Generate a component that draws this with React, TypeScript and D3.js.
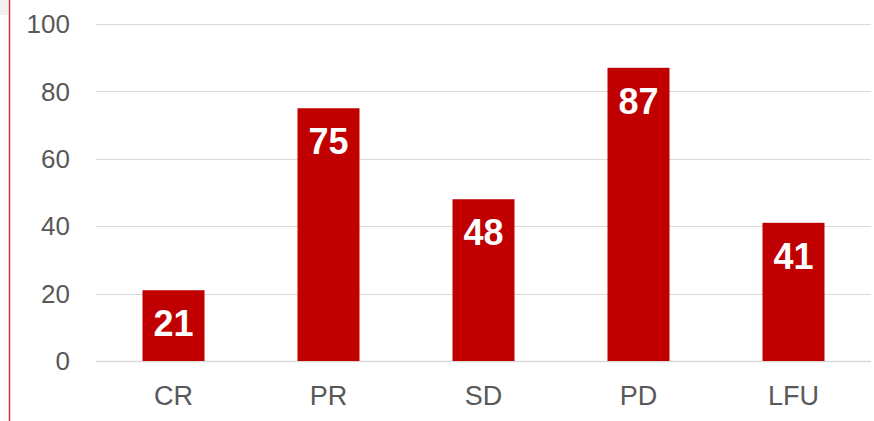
import React, { useRef, useEffect } from 'react';
import * as d3 from 'd3';

const categories = ['CR', 'PR', 'SD', 'PD', 'LFU'];
const values = [21, 75, 48, 87, 41];
const yTicks = [0, 20, 40, 60, 80, 100];

const width = 874;
const height = 421;

const App = () => {
  const svgRef = useRef<SVGSVGElement>(null);

  useEffect(() => {
    const svg = d3.select(svgRef.current);
    svg.selectAll('*').remove();

    const margin = { top: 24, right: 3, bottom: 60, left: 96 };
    const innerWidth = width - margin.left - margin.right;
    const innerHeight = height - margin.top - margin.bottom;

    // left edge decoration
    svg.append('rect')
      .attr('x', 0).attr('y', 0)
      .attr('width', 8).attr('height', 15)
      .attr('fill', '#f0f0f0');
    svg.append('line')
      .attr('x1', 9.5).attr('x2', 9.5)
      .attr('y1', 0).attr('y2', height)
      .attr('stroke', '#e0303c')
      .attr('stroke-width', 1.5);

    const x = d3.scaleBand()
      .domain(categories)
      .range([0, innerWidth])
      .paddingInner(0.6)
      .paddingOuter(0.3);

    const y = d3.scaleLinear().domain([0, 100]).range([innerHeight, 0]);

    const g = svg.append('g')
      .attr('transform', `translate(${margin.left}, ${margin.top})`);

    // gridlines
    g.selectAll('.grid')
      .data(yTicks)
      .enter()
      .append('line')
      .attr('x1', 0)
      .attr('x2', innerWidth)
      .attr('y1', d => Math.round(y(d)) + 0.5)
      .attr('y2', d => Math.round(y(d)) + 0.5)
      .attr('stroke', '#d9d9d9')
      .attr('stroke-width', d => (d === 0 ? 1.5 : 1));

    // y tick labels
    g.selectAll('.ytick')
      .data(yTicks)
      .enter()
      .append('text')
      .attr('x', -26)
      .attr('y', d => y(d))
      .attr('dy', '0.35em')
      .attr('text-anchor', 'end')
      .attr('font-family', 'Arial, Liberation Sans, sans-serif')
      .attr('font-size', '26px')
      .attr('fill', '#595959')
      .text(d => d);

    // bars
    g.selectAll('.bar')
      .data(values)
      .enter()
      .append('rect')
      .attr('x', (d, i) => x(categories[i]))
      .attr('y', d => y(d))
      .attr('width', x.bandwidth())
      .attr('height', d => innerHeight - y(d))
      .attr('fill', '#c00000');

    // value labels
    g.selectAll('.val')
      .data(values)
      .enter()
      .append('text')
      .attr('x', (d, i) => x(categories[i]) + x.bandwidth() / 2)
      .attr('y', d => y(d) + 46)
      .attr('text-anchor', 'middle')
      .attr('font-family', 'Arial, Liberation Sans, sans-serif')
      .attr('font-size', '36px')
      .attr('font-weight', 'bold')
      .attr('fill', '#ffffff')
      .text(d => d);

    // category labels
    g.selectAll('.cat')
      .data(categories)
      .enter()
      .append('text')
      .attr('x', d => x(d) + x.bandwidth() / 2)
      .attr('y', innerHeight + 44)
      .attr('text-anchor', 'middle')
      .attr('font-family', 'Arial, Liberation Sans, sans-serif')
      .attr('font-size', '27px')
      .attr('fill', '#595959')
      .text(d => d);
  }, []);

  return (
    <svg
      ref={svgRef}
      width={width}
      height={height}
      style={{ position: 'absolute', left: 0, top: 0, background: '#fff' }}
    ></svg>
  );
};

export default App;
